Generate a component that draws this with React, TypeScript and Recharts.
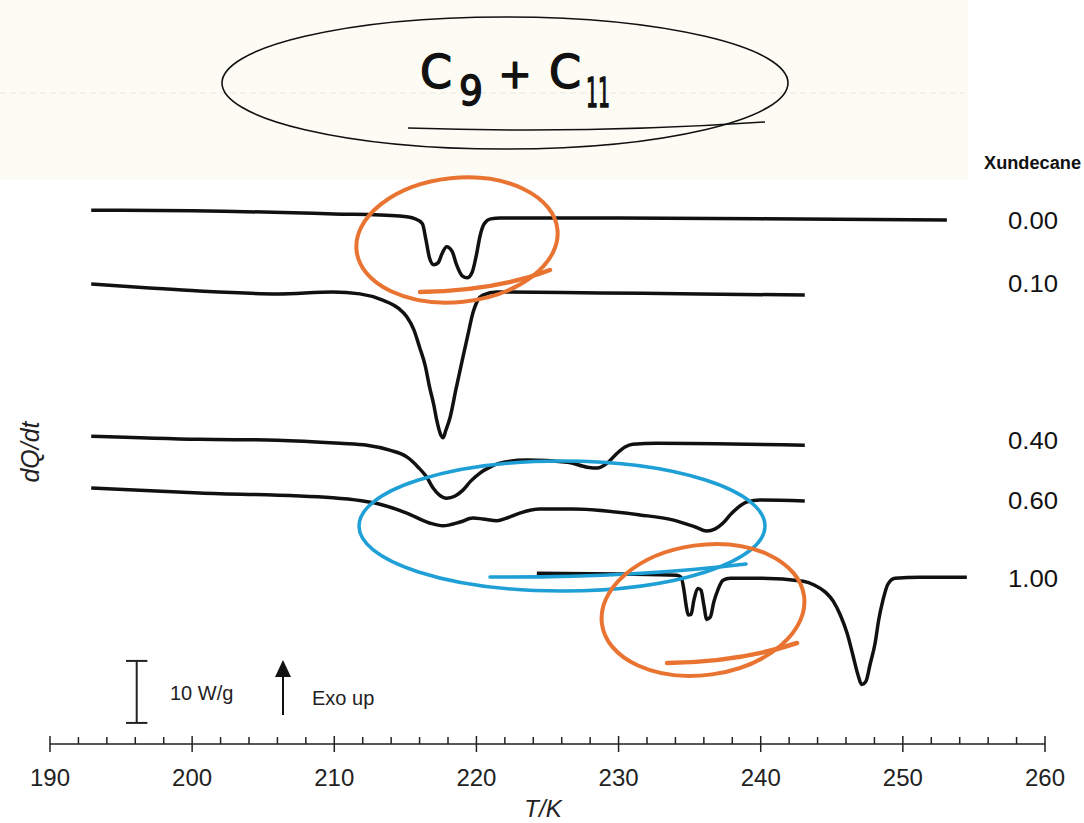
import { LineChart, Line, XAxis, YAxis, ReferenceLine } from "recharts";

const FONT = '"Liberation Sans", Arial, sans-serif';
const HAND = '"DejaVu Sans", "Noto Sans", sans-serif';
const ORANGE = "#e97432";
const BLUE = "#1e9fd6";

// x axis: T/K, minor ticks every 2 K
const X_TICKS = [
  190, 192, 194, 196, 198, 200, 202, 204, 206, 208, 210, 212, 214, 216, 218, 220, 222, 224, 226, 228, 230,
  232, 234, 236, 238, 240, 242, 244, 246, 248, 250, 252, 254, 256, 258, 260,
];

// mole fraction of undecane for each trace, and the vertical offset of each trace (W/g)
const FRACTIONS = ["0.00", "0.10", "0.40", "0.60", "1.00"];
const BASELINES = [85, 72.5, 48.2, 39.2, 26.9];

// x = 0.00
const T_000 = [192.9, 200.0, 210.0, 214.6, 215.7, 216.2, 216.45, 216.7, 217.0, 217.3, 217.6, 217.9, 218.3, 218.6, 219.0, 219.35, 219.7, 220.0, 220.25, 220.55, 221.0, 221.7, 230.0, 240.0, 253.1];
const Q_000 = [1.1, 1.0, 0.5, 0.15, -0.3, -1.1, -3.7, -6.6, -7.7, -7.4, -5.8, -4.8, -5.6, -7.7, -9.5, -9.8, -8.9, -6.1, -3.1, -1.1, -0.3, -0.15, -0.15, -0.3, -0.5];

// x = 0.10
const T_010 = [192.9, 197.0, 200.5, 206.0, 209.9, 211.8, 213.4, 214.5, 215.1, 215.6, 216.0, 216.4, 216.7, 217.0, 217.2, 217.5, 217.65, 217.85, 218.15, 218.55, 219.05, 219.4, 219.75, 220.1, 220.45, 221.45, 228.7, 235.7, 243.1];
const Q_010 = [1.7, 1.05, 0.55, 0.1, 0.4, 0.1, -0.9, -2.2, -3.6, -5.7, -8.5, -11.5, -14.9, -17.8, -20.2, -22.7, -23.1, -21.9, -19.8, -15.4, -10.1, -6.5, -3.0, -0.9, -0.1, 0.4, 0.25, 0.1, -0.1];

// x = 0.40
const T_040 = [192.9, 200.5, 206.0, 210.4, 212.3, 213.9, 215.1, 215.9, 216.5, 216.95, 217.4, 217.9, 218.5, 219.05, 219.6, 220.25, 220.95, 221.65, 223.55, 226.4, 227.8, 228.5, 229.2, 229.9, 230.45, 231.0, 232.7, 243.1];
const Q_040 = [1.45, 0.95, 0.8, 0.3, 0.0, -0.8, -1.9, -3.55, -5.15, -6.9, -8.05, -8.55, -8.2, -7.25, -5.8, -4.5, -3.55, -2.9, -2.4, -2.75, -3.55, -3.7, -2.9, -1.3, -0.3, 0.15, 0.3, 0.0];

// x = 0.60
const T_060 = [192.9, 200.5, 209.9, 213.4, 215.1, 216.7, 217.65, 218.85, 219.75, 220.45, 221.45, 222.15, 223.05, 224.45, 226.8, 231.5, 233.8, 235.4, 236.2, 236.8, 237.35, 237.85, 238.35, 239.05, 239.95, 243.1];
const Q_060 = [2.1, 1.3, 0.5, -0.65, -1.95, -3.55, -4.0, -3.4, -2.75, -2.9, -3.2, -2.75, -1.95, -1.3, -1.3, -2.25, -3.05, -4.2, -4.85, -4.5, -3.55, -2.25, -1.15, -0.15, 0.15, 0.0];

// x = 1.00
const T_100 = [224.25, 230.1, 234.1, 234.4, 234.6, 234.75, 234.9, 235.1, 235.3, 235.6, 235.8, 236.0, 236.2, 236.45, 236.7, 237.0, 237.35, 237.85, 240.0, 243.0, 243.8, 244.55, 245.1, 245.6, 246.1, 246.5, 246.85, 247.1, 247.4, 247.7, 248.05, 248.3, 248.6, 248.95, 249.45, 251.2, 254.5];
const Q_100 = [0.65, 0.5, 0.3, 0.0, -2.1, -4.5, -6.1, -6.0, -3.7, -1.8, -2.1, -4.5, -6.8, -6.45, -4.0, -1.95, -0.5, -0.15, -0.15, -0.65, -1.3, -2.4, -3.85, -6.1, -9.2, -12.7, -15.8, -17.3, -16.8, -14.0, -10.6, -6.9, -3.7, -1.1, -0.15, 0.0, 0.0];

// 10 W/g scale bar
const BAR_T = 196.1;
const BAR_LOW = 3.4;
const BAR_HIGH = 13.4;

const build = (t: number[], q: number[], base: number) => t.map((x, i) => ({ t: x, q: q[i] + base }));

const traces = [
  build(T_000, Q_000, BASELINES[0]),
  build(T_010, Q_010, BASELINES[1]),
  build(T_040, Q_040, BASELINES[2]),
  build(T_060, Q_060, BASELINES[3]),
  build(T_100, Q_100, BASELINES[4]),
];

const LABEL_Y = [229, 292, 449, 509, 587];

const AxisTick = ({ x, y, payload }: any) => {
  const v = payload.value;
  const major = v % 10 === 0;
  return (
    <g>
      <line x1={x} x2={x} y1={major ? y - 8 : y - 7} y2={major ? y + 8 : y} stroke="#222" strokeWidth={1.5} />
      {major && (
        <text x={x} y={y + 42} textAnchor="middle" fontSize={24} fill="#222" fontFamily={FONT}>
          {v}
        </text>
      )}
    </g>
  );
};

export default function App() {
  return (
    <div style={{ position: "absolute", left: 0, top: 0, width: 1084, height: 823, background: "#fff", overflow: "hidden" }}>
      <svg width={1084} height={823} style={{ position: "absolute", left: 0, top: 0 }}>
        <rect x={0} y={0} width={968} height={180} fill="#fcfbf4" />
        <line x1={0} x2={965} y1={93} y2={93} stroke="#e9e8e0" strokeWidth={1} strokeDasharray="6 4" />
      </svg>

      <div style={{ position: "absolute", left: 0, top: 0 }}>
        <LineChart width={1084} height={823} margin={{ top: 0, right: 39, left: 50, bottom: 0 }}>
          <XAxis
            type="number"
            dataKey="t"
            domain={[190, 260]}
            ticks={X_TICKS}
            interval={0}
            tickSize={0}
            tickMargin={0}
            tickLine={false}
            height={79}
            axisLine={{ stroke: "#222", strokeWidth: 1.5 }}
            tick={<AxisTick />}
            allowDataOverflow
          />
          <YAxis type="number" domain={[0, 120]} hide allowDataOverflow />
          {traces.map((d, i) => (
            <Line
              key={FRACTIONS[i]}
              data={d}
              dataKey="q"
              type="monotone"
              stroke="#111"
              strokeWidth={3.5}
              dot={false}
              activeDot={false}
              isAnimationActive={false}
            />
          ))}
          <ReferenceLine segment={[{ x: BAR_T, y: BAR_LOW }, { x: BAR_T, y: BAR_HIGH }]} stroke="#222" strokeWidth={2} />
          <ReferenceLine segment={[{ x: BAR_T - 0.75, y: BAR_HIGH }, { x: BAR_T + 0.75, y: BAR_HIGH }]} stroke="#222" strokeWidth={2} />
          <ReferenceLine segment={[{ x: BAR_T - 0.75, y: BAR_LOW }, { x: BAR_T + 0.75, y: BAR_LOW }]} stroke="#222" strokeWidth={2} />
        </LineChart>
      </div>

      <svg width={1084} height={823} style={{ position: "absolute", left: 0, top: 0, pointerEvents: "none" }}>
        {/* title */}
        <ellipse cx={505} cy={83} rx={283} ry={66} fill="none" stroke="#111" strokeWidth={1.6} />
        <path d="M408,128 Q590,134 765,122" fill="none" stroke="#111" strokeWidth={1.6} />
        <g fontFamily={HAND} fill="#111" stroke="#111" strokeWidth={1.4} strokeLinejoin="round">
          <text x={420} y={88} fontSize={46}>C</text>
          <text x={459} y={105} fontSize={40} textLength={24} lengthAdjust="spacingAndGlyphs">9</text>
          <text x={515} y={88} fontSize={40} textAnchor="middle">+</text>
          <text x={549} y={88} fontSize={46}>C</text>
          <text x={586} y={107} fontSize={40} textLength={24} lengthAdjust="spacingAndGlyphs">11</text>
        </g>

        {/* hand-drawn highlights */}
        <ellipse cx={457} cy={240} rx={101} ry={62} transform="rotate(-6 457 240)" fill="none" stroke={ORANGE} strokeWidth={4} />
        <path d="M420,292 Q495,291 550,270" fill="none" stroke={ORANGE} strokeWidth={4.5} strokeLinecap="round" />
        <ellipse cx={562} cy={526} rx={203} ry={65} fill="none" stroke={BLUE} strokeWidth={3.5} />
        <path d="M490,577 Q630,578 746,564" fill="none" stroke={BLUE} strokeWidth={3.5} strokeLinecap="round" />
        <ellipse cx={703} cy={610} rx={102} ry={65} transform="rotate(-8 703 610)" fill="none" stroke={ORANGE} strokeWidth={4} />
        <path d="M667,663 Q740,662 797,643" fill="none" stroke={ORANGE} strokeWidth={4.5} strokeLinecap="round" />

        {/* axis titles */}
        <text x={543} y={817} textAnchor="middle" fontSize={24} fontStyle="italic" fill="#222" fontFamily={FONT}>
          T/K
        </text>
        <text
          x={0}
          y={0}
          transform="translate(39 452) rotate(-90)"
          textAnchor="middle"
          fontSize={25}
          fontStyle="italic"
          fill="#222"
          fontFamily={FONT}
        >
          dQ/dt
        </text>

        {/* composition labels */}
        <text x={984} y={169} fontSize={18} fontWeight="bold" fill="#111" fontFamily={FONT} textLength={97} lengthAdjust="spacingAndGlyphs">
          Xundecane
        </text>
        {FRACTIONS.map((f, i) => (
          <text key={f} x={1008} y={LABEL_Y[i]} fontSize={23} fill="#111" fontFamily={FONT} textLength={50} lengthAdjust="spacingAndGlyphs">
            {f}
          </text>
        ))}

        {/* scale bar text and exo arrow */}
        <text x={170} y={700} fontSize={20} fill="#222" fontFamily={FONT}>10 W/g</text>
        <line x1={283} x2={283} y1={715} y2={674} stroke="#111" strokeWidth={2} />
        <polygon points="283,660 275,677 291,677" fill="#111" />
        <text x={312} y={705} fontSize={20} fill="#222" fontFamily={FONT}>Exo up</text>
      </svg>
    </div>
  );
}
